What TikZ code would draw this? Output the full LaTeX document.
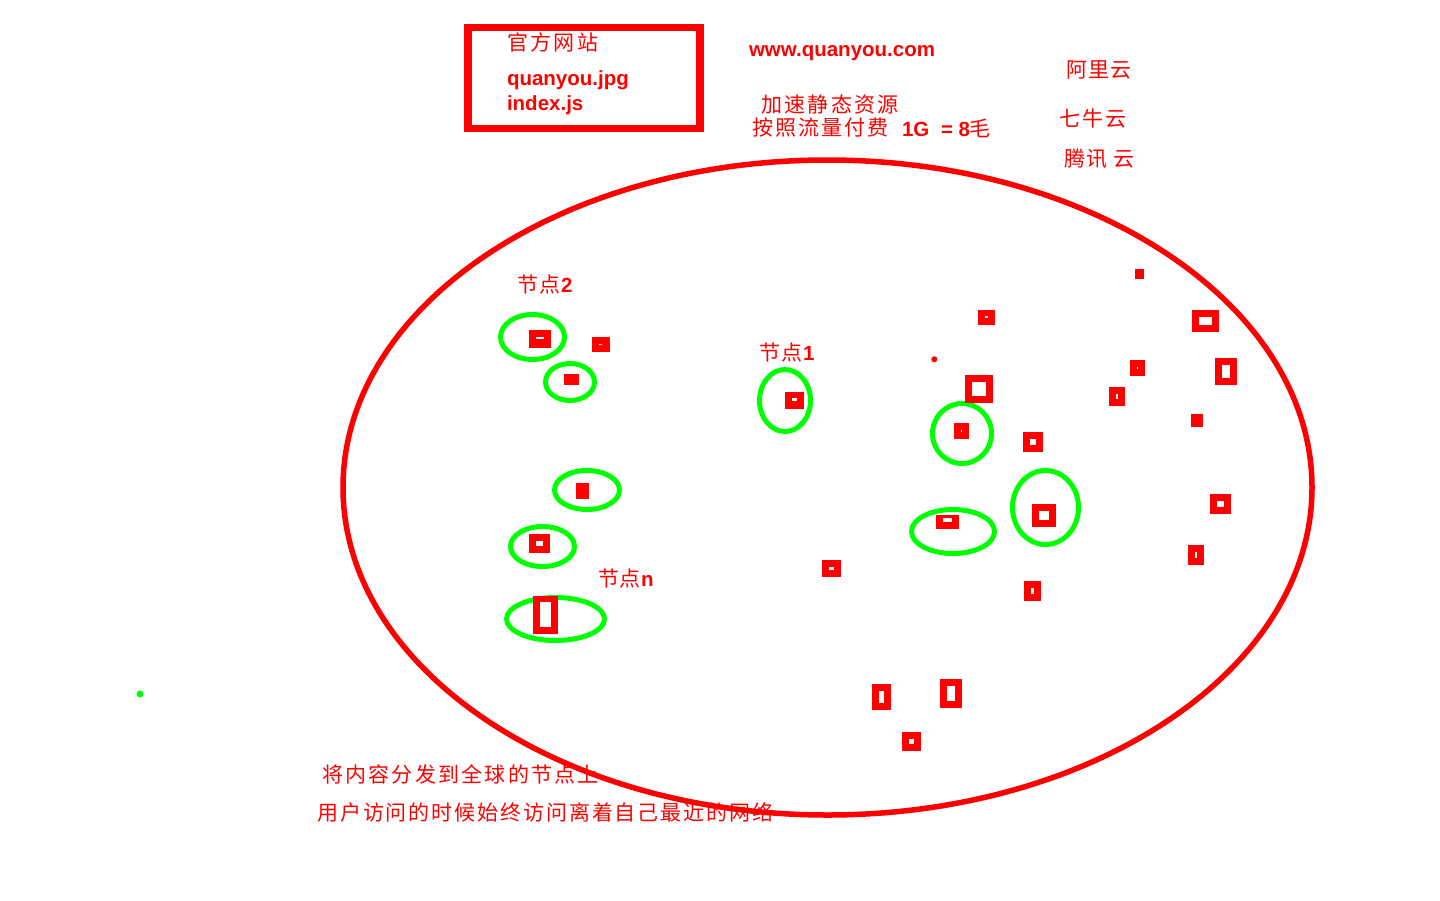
\documentclass[tikz,border=0pt]{standalone}
\usepackage{fontspec}
\setmainfont{Liberation Sans}
\newfontfamily\cjk{Noto Sans CJK SC}
\definecolor{pr}{RGB}{255,0,0}
\definecolor{pg}{RGB}{0,255,0}
\makeatletter
\newcommand\pitched[2]{\@tfor\pt@c:=#2\do{\makebox[#1pt][c]{\pt@c}}}
\makeatother
\begin{document}
\begin{tikzpicture}[x=1pt,y=-1pt,
  cn/.style={text=pr, font=\cjk\fontsize{21}{21}\selectfont, inner sep=0pt, outer sep=0pt, anchor=west},
  lat/.style={text=pr, font=\fontsize{20.5}{20.5}\selectfont\bfseries, inner sep=0pt, outer sep=0pt, anchor=base west},
  ring/.style={draw=pg, line width=5pt},
  bigring/.style={draw=pr, line width=5.5pt},
  frame/.style={draw=pr, line width=7.5pt},
  blk/.style={fill=pr},
  hole/.style={fill=white}]
\useasboundingbox[fill=white] (0,0) rectangle (1440,900);

% ---------- texts ----------
\node[cn] (title) at (506,42) {\pitched{23.3}{官方网站}};
\node[lat] (jpg) at (507,85) {quanyou.jpg};
\node[lat] (js) at (507,110.5) {index.js};
\node[lat] (www) at (749,56) {www.quanyou.com};
\node[cn] (acc) at (760.3,104.5) {\pitched{23.2}{加速静态资源}};
\node[cn] (pay) at (751.3,128) {\pitched{23}{按照流量付费}};
\node[lat] (g1) at (902,136) {1G};
\node[lat] (eq) at (941,136) {= 8};
\node[cn] (mao) at (969,128) {毛};
\node[cn] (ali) at (1065.8,70) {\pitched{22}{阿里云}};
\node[cn] (qiniu) at (1058.3,118.5) {\pitched{23}{七牛云}};
\node[cn] (tx) at (1063.5,159) {\pitched{22}{腾讯}\hspace{6pt}\makebox[22pt][c]{云}};
\node[cn] (n2) at (517,285) {\pitched{22}{节点}{\rmfamily\bfseries\fontsize{20.5}{20.5}\selectfont 2}};
\node[cn] (n1) at (759,353) {\pitched{22}{节点}{\rmfamily\bfseries\fontsize{20.5}{20.5}\selectfont 1}};
\node[cn] (nn) at (598,578) {\pitched{21.5}{节点}{\rmfamily\bfseries\fontsize{20.5}{20.5}\selectfont n}};
\node[cn] (l1) at (321.3,774) {\pitched{23.2}{将内容分发到全球的节点上}};
\node[cn] (l2) at (316.3,812) {\pitched{22.9}{用户访问的时候始终访问离着自己最近的网络}};

% ---------- green rings ----------
\draw[ring] (532.5,337) ellipse [x radius=32, y radius=22.5];
\draw[ring] (570,382) ellipse [x radius=24.5, y radius=18.5];
\draw[ring] (587,490) ellipse [x radius=32.5, y radius=19.5];
\draw[ring] (542.5,546.5) ellipse [x radius=32, y radius=20];
\draw[ring] (555.5,619) ellipse [x radius=49, y radius=21.5];
\draw[ring] (785,400.5) ellipse [x radius=25.5, y radius=31];
\draw[ring] (962,433.5) ellipse [x radius=29.5, y radius=30];
\draw[ring] (1045.5,507.5) ellipse [x radius=33, y radius=37];
\draw[ring] (953,531.5) ellipse [x radius=41.5, y radius=22];

% ---------- red squares ----------
\fill[blk] (529,330) rectangle (551,348);   \fill[hole] (536,337) rectangle (544,339);
\fill[blk] (592,337) rectangle (610,352);   \fill[hole] (599,344) rectangle (602,345);
\fill[blk] (564,374) rectangle (579,385);
\fill[blk] (576,483) rectangle (589,499);
\fill[blk] (529,534) rectangle (550,553);   \fill[hole] (536,541) rectangle (543,546);
\fill[blk] (533,596) rectangle (558,634);   \fill[hole] (540,602) rectangle (551,627);
\fill[blk] (785,392) rectangle (804,409);   \fill[hole] (792,398) rectangle (797,401);
\fill[blk] (965,375) rectangle (993,403);   \fill[hole] (972,382) rectangle (986,396);
\fill[blk] (954,423) rectangle (969,439);   \fill[hole] (961,429.5) rectangle (962,432);
\fill[blk] (1023,432) rectangle (1043,452); \fill[hole] (1030,439) rectangle (1036,445);
\fill[blk] (1032,504) rectangle (1056,527); \fill[hole] (1039,511) rectangle (1049,520);
\fill[blk] (936,515) rectangle (959,529);   \fill[hole] (943,518) rectangle (952,522);
\fill[blk] (978,310) rectangle (995,325);   \fill[hole] (985,316) rectangle (988,317.5);
\fill[blk] (1135,269) rectangle (1144,279);
\fill[blk] (1192,310) rectangle (1219,332); \fill[hole] (1199,317) rectangle (1212,325);
\fill[blk] (1215,358) rectangle (1237,385); \fill[hole] (1222,365) rectangle (1230,378);
\fill[blk] (1130,360) rectangle (1145,376); \fill[hole] (1137,367) rectangle (1138,369);
\fill[blk] (1109,387) rectangle (1125,406); \fill[hole] (1116,394) rectangle (1118,399);
\fill[blk] (1191,414) rectangle (1203,427);
\fill[blk] (1210,494) rectangle (1231,514); \fill[hole] (1217,501) rectangle (1224,507);
\fill[blk] (1188,545) rectangle (1204,565); \fill[hole] (1195,552) rectangle (1197,558);
\fill[blk] (822,560) rectangle (841,577);   \fill[hole] (829,567) rectangle (834,570);
\fill[blk] (1024,581) rectangle (1041,601); \fill[hole] (1031,588) rectangle (1034,594);
\fill[blk] (872,684) rectangle (891,710);   \fill[hole] (879,691) rectangle (884,703);
\fill[blk] (940,679) rectangle (962,708);   \fill[hole] (947,686) rectangle (955,701);
\fill[blk] (902,732) rectangle (921,751);   \fill[hole] (909,739) rectangle (914,744);

% ---------- dots ----------
\fill[pr] (934.3,359.3) circle [radius=3];
\fill[pg] (140,694) circle [radius=3.5];

% ---------- big ellipse and frame ----------
\draw[bigring] (827.5,487.5) ellipse [x radius=484.5, y radius=327.5];
\draw[frame] (468,27.5) rectangle (700,128.5);
\end{tikzpicture}
\end{document}
